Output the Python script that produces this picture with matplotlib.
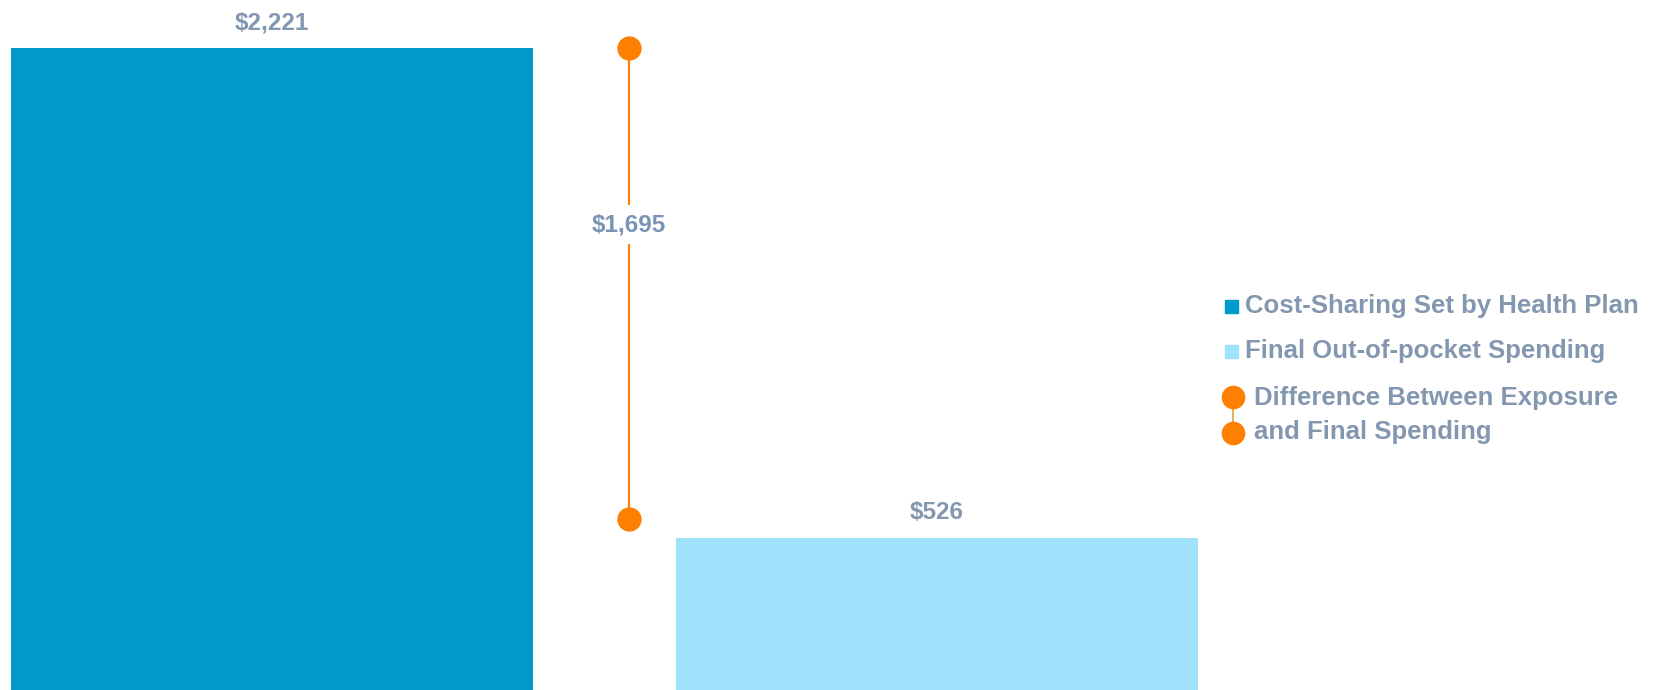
import matplotlib.pyplot as plt
from matplotlib.lines import Line2D

plt.rcParams['font.family'] = ['Liberation Sans', 'DejaVu Sans']

categories = ["Cost-Sharing Set by Health Plan", "Final Out-of-pocket Spending"]
values = [2221, 526]
bar_labels = ["$2,221", "$526"]
# dumbbell ends as drawn in the picture
diff_ends = [2221, 592]
diff_label = "$1,695"
diff_legend = "Difference Between Exposure\nand Final Spending"

dark = "#0099CC"
light = "#A0E2FC"
orange = "#FF7F00"
txt = "#8497B0"

fig = plt.figure(figsize=(16.62, 6.9), dpi=100)
ax = fig.add_axes([0, 0, 1, 1])
ax.set_xlim(-0.409, 2.090)
ax.set_ylim(0, 2387)
ax.axis("off")

xs = [0, 1]
ax.bar(xs, values, width=0.786, color=[dark, light])
for x, v, lab in zip(xs, values, bar_labels):
    ax.text(x, v + 48, lab, ha="center", va="bottom", fontsize=17.5,
            fontweight="bold", color=txt)

# dumbbell
dx = 0.537
ax.plot([dx, dx], diff_ends, color=orange, lw=1.5, zorder=2)
ax.plot([dx, dx], diff_ends, "o", color=orange, ms=16.5, zorder=3)
ax.text(dx, 1610, diff_label, ha="center", va="center", fontsize=17.5,
        fontweight="bold", color="#7b93b4", zorder=4,
        bbox=dict(facecolor="white", edgecolor="none", pad=6))

# legend drawn by hand in figure pixels
W, H = 1662, 690
def fx(px):
    return px / W
def fy(py):
    return 1 - py / H

fig.patches.append(plt.Rectangle((fx(1225), fy(313)), 13 / W, 13 / H,
                                 transform=fig.transFigure, color=dark))
fig.text(fx(1245), fy(306), categories[0], ha="left", va="center",
         fontsize=18.5, fontweight="bold", color=txt)
fig.patches.append(plt.Rectangle((fx(1225), fy(358)), 13 / W, 13 / H,
                                 transform=fig.transFigure, color=light))
fig.text(fx(1245), fy(351), categories[1], ha="left", va="center",
         fontsize=18.5, fontweight="bold", color=txt)
fig.lines.append(Line2D([fx(1233), fx(1233)], [fy(397), fy(433)],
                        transform=fig.transFigure, color="#D9A441", lw=1.2))
fig.lines.append(Line2D([fx(1233), fx(1233)], [fy(397), fy(433)],
                        transform=fig.transFigure, ls="none", marker="o",
                        ms=16, color=orange))
fig.text(fx(1254), fy(415), diff_legend, ha="left", va="center",
         fontsize=18.5, fontweight="bold", color=txt, linespacing=1.55)

fig.savefig("out.png", dpi=100)
